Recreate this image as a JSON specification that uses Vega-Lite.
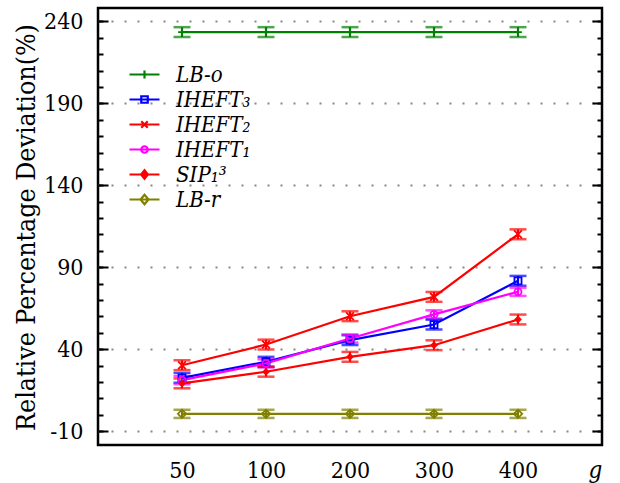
{
  "$schema": "https://vega.github.io/schema/vega-lite/v6.json",
  "width": 504,
  "height": 437,
  "autosize": {"type": "none"},
  "padding": {"left": 98, "top": 8, "right": 18, "bottom": 38},
  "background": "white",
  "config": {
    "view": {"stroke": "black", "strokeWidth": 2.5},
    "font": "'DejaVu Serif Condensed', 'DejaVu Serif', serif"
  },
  "data": {
    "values": [
      {"s": "LB-o", "g": 50, "v": 233.5, "lo": 230.5, "hi": 236.5},
      {"s": "LB-o", "g": 100, "v": 233.5, "lo": 230.5, "hi": 236.5},
      {"s": "LB-o", "g": 200, "v": 233.5, "lo": 230.5, "hi": 236.5},
      {"s": "LB-o", "g": 300, "v": 233.5, "lo": 230.5, "hi": 236.5},
      {"s": "LB-o", "g": 400, "v": 233.5, "lo": 230.5, "hi": 236.5},
      {"s": "IHEFT₃", "g": 50, "v": 22.5, "lo": 19.5, "hi": 25.5},
      {"s": "IHEFT₃", "g": 100, "v": 32.3, "lo": 29.3, "hi": 35.3},
      {"s": "IHEFT₃", "g": 200, "v": 45.5, "lo": 42.5, "hi": 48.5},
      {"s": "IHEFT₃", "g": 300, "v": 55.0, "lo": 52.0, "hi": 58.0},
      {"s": "IHEFT₃", "g": 400, "v": 81.7, "lo": 78.7, "hi": 84.7},
      {"s": "IHEFT₂", "g": 50, "v": 30.2, "lo": 27.2, "hi": 33.2},
      {"s": "IHEFT₂", "g": 100, "v": 42.8, "lo": 39.8, "hi": 45.8},
      {"s": "IHEFT₂", "g": 200, "v": 60.1, "lo": 57.1, "hi": 63.1},
      {"s": "IHEFT₂", "g": 300, "v": 71.9, "lo": 68.9, "hi": 74.9},
      {"s": "IHEFT₂", "g": 400, "v": 110.1, "lo": 107.1, "hi": 113.1},
      {"s": "IHEFT₁", "g": 50, "v": 21.1, "lo": 18.6, "hi": 23.6},
      {"s": "IHEFT₁", "g": 100, "v": 31.3, "lo": 28.8, "hi": 33.8},
      {"s": "IHEFT₁", "g": 200, "v": 46.5, "lo": 44.0, "hi": 49.0},
      {"s": "IHEFT₁", "g": 300, "v": 61.2, "lo": 58.7, "hi": 63.7},
      {"s": "IHEFT₁", "g": 400, "v": 75.0, "lo": 72.5, "hi": 77.5},
      {"s": "SIP₁³", "g": 50, "v": 19.1, "lo": 16.1, "hi": 22.1},
      {"s": "SIP₁³", "g": 100, "v": 26.2, "lo": 23.2, "hi": 29.2},
      {"s": "SIP₁³", "g": 200, "v": 35.3, "lo": 32.3, "hi": 38.3},
      {"s": "SIP₁³", "g": 300, "v": 42.4, "lo": 39.4, "hi": 45.4},
      {"s": "SIP₁³", "g": 400, "v": 58.1, "lo": 55.1, "hi": 61.1},
      {"s": "LB-r", "g": 50, "v": 0.5, "lo": -2.0, "hi": 3.0},
      {"s": "LB-r", "g": 100, "v": 0.5, "lo": -2.0, "hi": 3.0},
      {"s": "LB-r", "g": 200, "v": 0.5, "lo": -2.0, "hi": 3.0},
      {"s": "LB-r", "g": 300, "v": 0.5, "lo": -2.0, "hi": 3.0},
      {"s": "LB-r", "g": 400, "v": 0.5, "lo": -2.0, "hi": 3.0}
    ]
  },
  "encoding": {
    "x": {
      "field": "g",
      "type": "ordinal",
      "scale": {"type": "point", "padding": 1.18},
      "axis": {
        "title": "g",
        "titleFontStyle": "italic",
        "titleFontWeight": "normal",
        "titleFontSize": 24,
        "titleColor": "black",
        "titleX": 497,
        "titleY": 32,
        "titleAlign": "center",
        "titleBaseline": "alphabetic",
        "labelAngle": 0,
        "labelFontSize": 23,
        "labelColor": "black",
        "labelBaseline": "alphabetic",
        "labelPadding": 32,
        "ticks": false,
        "tickSize": 0,
        "domain": false,
        "grid": false
      }
    },
    "color": {
      "field": "s",
      "type": "nominal",
      "scale": {
        "domain": ["LB-o", "IHEFT₃", "IHEFT₂", "IHEFT₁", "SIP₁³", "LB-r"],
        "range": ["#008000", "#0000ff", "#ff0000", "#ff00ff", "#ff0000", "#808000"]
      },
      "legend": {
        "orient": "none",
        "legendX": 32.5,
        "legendY": 52.5,
        "title": null,
        "padding": 0,
        "rowPadding": 0,
        "labelFontStyle": "italic",
        "labelFontSize": 22,
        "labelColor": "black",
        "labelOffset": 17.5,
        "labelLimit": 300,
        "symbolSize": 625,
        "symbolStrokeWidth": 2.2,
        "encode": {
          "symbols": {
            "update": {
              "shape": {"signal": "datum.value === 'LB-o' ? 'M-1.2,0H1.2M0,-0.32V0.32' : datum.value === 'IHEFT₃' ? 'M-1.2,0H1.2M-0.26,-0.26H0.26V0.26H-0.26Z' : datum.value === 'IHEFT₂' ? 'M-1.2,0H1.2M-0.26,-0.26L0.26,0.26M-0.26,0.26L0.26,-0.26' : datum.value === 'IHEFT₁' ? 'M-1.2,0H1.2M0.26,0A0.26,0.26 0 1,1 -0.26,0A0.26,0.26 0 1,1 0.26,0' : datum.value === 'SIP₁³' ? 'M-1.2,0H1.2M0,-0.34L0.27,0L0,0.34L-0.27,0Z' : 'M-1.2,0H1.2M0,-0.38L0.32,0L0,0.38L-0.32,0Z'"},
              "fillOpacity": {"signal": "datum.value === 'SIP₁³' ? 1 : 0"},
              "stroke": {"scale": "color", "field": "value"},
              "strokeWidth": {"value": 2.2}
            }
          }
        }
      }
    }
  },
  "layer": [
    {
      "mark": {"type": "rule", "strokeWidth": 2.2},
      "encoding": {
        "y": {
          "field": "lo",
          "type": "quantitative",
          "scale": {"domain": [-18.5, 248.2], "nice": false, "zero": false},
          "axis": {
            "orient": "left",
            "values": [-10, 0, 10, 20, 30, 40, 50, 60, 70, 80, 90, 100, 110, 120, 130, 140, 150, 160, 170, 180, 190, 200, 210, 220, 230, 240],
            "labels": false,
            "title": null,
            "domain": false,
            "grid": false,
            "ticks": true,
            "tickSize": -5,
            "tickWidth": 2,
            "tickColor": "black"
          }
        },
        "y2": {"field": "hi"}
      }
    },
    {
      "mark": {"type": "tick", "size": 17, "thickness": 2.5},
      "encoding": {
        "y": {
          "field": "lo",
          "type": "quantitative",
          "axis": {
            "orient": "right",
            "values": [-10, 40, 90, 140, 190, 240],
            "labels": false,
            "title": null,
            "domain": false,
            "grid": false,
            "ticks": true,
            "tickSize": -10,
            "tickWidth": 2,
            "tickColor": "black"
          }
        }
      }
    },
    {
      "mark": {"type": "tick", "size": 17, "thickness": 2.5},
      "encoding": {
        "y": {
          "field": "hi",
          "type": "quantitative",
          "axis": {
            "orient": "right",
            "values": [-10, 0, 10, 20, 30, 40, 50, 60, 70, 80, 90, 100, 110, 120, 130, 140, 150, 160, 170, 180, 190, 200, 210, 220, 230, 240],
            "labels": false,
            "title": null,
            "domain": false,
            "grid": false,
            "ticks": true,
            "tickSize": -5,
            "tickWidth": 2,
            "tickColor": "black"
          }
        }
      }
    },
    {
      "mark": {"type": "line", "strokeWidth": 2.2},
      "encoding": {
        "y": {
          "field": "v",
          "type": "quantitative",
          "axis": {
            "orient": "left",
            "values": [-10, 40, 90, 140, 190, 240],
            "labelExpr": "replace(datum.label, '−', '-')",
            "title": "Relative Percentage Deviation(%)",
            "titleFontSize": 26.5,
            "titleFontWeight": "normal",
            "titleColor": "black",
            "titleAngle": -90,
            "titleX": -64,
            "titleY": 219,
            "titleAlign": "center",
            "titleBaseline": "alphabetic",
            "labelFontSize": 23,
            "labelColor": "black",
            "labelBaseline": "middle",
            "labelPadding": 15,
            "ticks": false,
            "tickSize": 0,
            "domain": false,
            "grid": true,
            "gridDash": [2, 11],
            "gridColor": "#888888",
            "gridWidth": 2
          }
        }
      }
    },
    {
      "transform": [{"filter": "datum.s === 'LB-o'"}],
      "mark": {"type": "point", "filled": false, "size": 60, "strokeWidth": 1.8, "opacity": 1, "shape": "M-1,0H1M0,-1V1"},
      "encoding": {
        "y": {
          "field": "v",
          "type": "quantitative",
          "axis": {
            "orient": "left",
            "values": [-10, 40, 90, 140, 190, 240],
            "labels": false,
            "title": null,
            "domain": false,
            "grid": false,
            "ticks": true,
            "tickSize": -10,
            "tickWidth": 2,
            "tickColor": "black"
          }
        }
      }
    },
    {
      "transform": [{"filter": "datum.s === 'IHEFT₃'"}],
      "mark": {"type": "point", "filled": false, "size": 50, "strokeWidth": 1.8, "opacity": 1, "shape": "square"},
      "encoding": {"y": {"field": "v", "type": "quantitative", "axis": null}}
    },
    {
      "transform": [{"filter": "datum.s === 'IHEFT₂'"}],
      "mark": {"type": "point", "filled": false, "size": 60, "strokeWidth": 1.8, "opacity": 1, "shape": "M-1,-1L1,1M-1,1L1,-1"},
      "encoding": {"y": {"field": "v", "type": "quantitative", "axis": null}}
    },
    {
      "transform": [{"filter": "datum.s === 'IHEFT₁'"}],
      "mark": {"type": "point", "filled": false, "size": 50, "strokeWidth": 1.8, "opacity": 1, "shape": "circle"},
      "encoding": {"y": {"field": "v", "type": "quantitative", "axis": null}}
    },
    {
      "transform": [{"filter": "datum.s === 'SIP₁³'"}],
      "mark": {"type": "point", "filled": true, "size": 60, "opacity": 1, "shape": "diamond"},
      "encoding": {"y": {"field": "v", "type": "quantitative", "axis": null}}
    },
    {
      "transform": [{"filter": "datum.s === 'LB-r'"}],
      "mark": {"type": "point", "filled": false, "size": 70, "strokeWidth": 1.8, "opacity": 1, "shape": "diamond"},
      "encoding": {"y": {"field": "v", "type": "quantitative", "axis": null}}
    }
  ],
  "resolve": {"axis": {"y": "independent"}}
}
